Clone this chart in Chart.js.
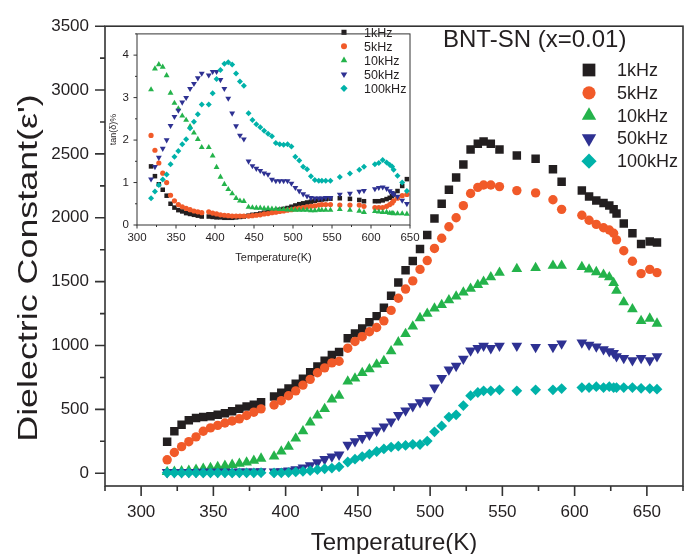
<!DOCTYPE html>
<html>
<head>
<meta charset="utf-8">
<script src="https://cdn.jsdelivr.net/npm/chart.js@4/dist/chart.umd.min.js"></script>
<style>
    html, body { margin: 0; padding: 0; background: #fff; }
    #wrap { position: relative; width: 694px; height: 554px; }
    #main { position: absolute; left: 0; top: 0; }
    #inset { position: absolute; left: 106px; top: 19px; }
</style>
</head>
<body>
<div id="wrap">
    <canvas id="main" width="694" height="554"></canvas>
    <canvas id="inset" width="320" height="250"></canvas>
</div>
<script>
// temperatures (K), shared by main plot and inset
const temps = [318, 323, 328, 333, 338, 343, 348, 353, 358, 363, 368, 373, 378, 383,
    392, 397, 402, 407, 412, 417, 422, 427, 432, 437, 443, 448, 453, 458, 463, 468,
    473, 478, 483, 488, 493, 498, 503, 508, 513, 518, 523, 528, 533, 537, 542, 548,
    560, 573, 585, 591,
    605, 610, 615, 620, 624, 627, 629, 634, 640, 646, 652, 657];

// dielectric constant
const eps1k = [247, 329, 380, 414, 432, 440, 447, 457, 470, 486, 504, 522, 537, 555,
    600, 630, 663, 700, 740, 790, 835, 880, 925, 950, 1056, 1095, 1133, 1183, 1230, 1295,
    1390, 1493, 1590, 1662, 1755, 1866, 1995, 2110, 2220, 2315, 2418, 2534, 2580, 2598, 2580, 2534,
    2488, 2462, 2380, 2282,
    2213, 2167, 2136, 2115, 2097, 2066, 2033, 1956, 1879, 1794, 1814, 1807];
const eps5k = [105, 162, 208, 247, 285, 329, 355, 375, 393, 409, 426, 452, 478, 504,
    534, 568, 607, 645, 690, 735, 787, 825, 864, 877, 979, 1031, 1069, 1108, 1141, 1193,
    1275, 1370, 1442, 1506, 1596, 1665, 1760, 1840, 1930, 2000, 2095, 2190, 2238, 2257, 2257, 2244,
    2213, 2195, 2141, 2066,
    2020, 1981, 1948, 1922, 1904, 1879, 1827, 1742, 1660, 1563, 1596, 1571];
const eps10k = [10, 12, 15, 20, 28, 35, 42, 50, 58, 66, 75, 85, 98, 115,
    131, 170, 208, 272, 330, 398, 452, 504, 578, 607, 718, 742, 785, 815, 852, 880,
    955, 1025, 1090, 1150, 1215, 1250, 1290, 1318, 1355, 1385, 1415, 1445, 1475, 1500, 1535, 1571,
    1600, 1607, 1625, 1625,
    1615, 1596, 1575, 1555, 1535, 1490, 1430, 1339, 1285, 1193, 1211, 1172];
const eps50k = [8, 8, 8, 9, 9, 10, 10, 10, 11, 11, 12, 12, 13, 14,
    12, 15, 20, 30, 45, 62, 85, 110, 130, 145, 222, 250, 275, 300, 333, 365,
    405, 455, 491, 524, 555, 570, 671, 745, 812, 840, 895, 960, 980, 997, 979, 997,
    997, 987, 987, 1015,
    1023, 1005, 992, 970, 955, 940, 915, 902, 884, 902, 884, 915];
const eps100k = [3, 3, 2, 3, 3, 2, 3, 3, 3, 2, 3, 3, 3, 4,
    2, 3, 5, 10, 15, 20, 28, 35, 40, 50, 88, 110, 130, 150, 170, 190,
    205, 212, 218, 226, 225, 252, 324, 370, 440, 457, 530, 607, 632, 645, 645, 653,
    645, 653, 653, 663,
    671, 671, 678, 671, 678, 671, 671, 671, 671, 665, 663, 658];

// loss tangent (%) for the inset
const tan1k = [1.38, 1.15, 0.96, 0.83, 0.69, 0.50, 0.41, 0.35, 0.32, 0.28, 0.26, 0.24, 0.22, 0.20,
    0.20, 0.19, 0.18, 0.18, 0.17, 0.17, 0.17, 0.18, 0.19, 0.20, 0.22, 0.24, 0.25, 0.27, 0.29, 0.30,
    0.32, 0.34, 0.36, 0.38, 0.40, 0.43, 0.46, 0.49, 0.51, 0.53, 0.55, 0.57, 0.59, 0.60, 0.61, 0.62,
    0.63, 0.615, 0.59, 0.56,
    0.56, 0.56, 0.58, 0.61, 0.64, 0.68, 0.72, 0.80, 0.92, 1.08, null, null];
const tan5k = [2.11, 1.76, 1.46, 1.22, 1.00, 0.70, 0.57, 0.48, 0.43, 0.39, 0.36, 0.33, 0.31, 0.29,
    0.31, 0.28, 0.26, 0.24, 0.23, 0.22, 0.21, 0.21, 0.21, 0.21, 0.21, 0.22, 0.23, 0.24, 0.26, 0.27,
    0.29, 0.30, 0.32, 0.33, 0.35, 0.36, 0.38, 0.40, 0.41, 0.43, 0.44, 0.45, 0.47, 0.48, 0.48, 0.48,
    0.47, 0.47, 0.47, 0.44,
    0.41, 0.41, 0.41, 0.44, 0.48, 0.52, 0.57, 0.63, 0.69, 0.72, null, null];
const tan10k = [3.19, 3.68, 3.78, 3.72, 3.52, 3.11, 2.87, 2.74, 2.57, 2.47, 2.32, 2.17, 2.02, 1.83,
    1.83, 1.63, 1.36, 1.13, 0.96, 0.84, 0.74, 0.63, 0.57, 0.56, 0.42, 0.41, 0.40, 0.40, 0.39, 0.39,
    0.38, 0.38, 0.37, 0.37, 0.36, 0.36, 0.35, 0.35, 0.35, 0.35, 0.34, 0.34, 0.35, 0.35, 0.35, 0.35,
    0.37, 0.35, 0.33, 0.30,
    0.32, 0.31, 0.30, 0.30, 0.28, 0.28, 0.27, 0.27, 0.27, 0.26, null, null];
const tan50k = [1.08, 1.37, 1.59, 1.80, 2.00, 2.34, 2.55, 2.70, 2.89, 3.00, 3.21, 3.33, 3.46, 3.57,
    3.53, 3.61, 3.61, 3.42, 3.21, 2.98, 2.63, 2.33, 2.11, 2.02, 1.50, 1.39, 1.33, 1.28, 1.22, 1.19,
    1.07, 1.04, 1.04, 1.04, 1.04, 0.98, 0.88, 0.80, 0.73, 0.68, 0.64, 0.63, 0.63, 0.63, 0.64, 0.64,
    0.72, 0.74, 0.79, 0.81,
    0.85, 0.88, 0.89, 0.86, 0.80, 0.76, 0.72, 0.67, 0.58, 0.50, null, null];
const tan100k = [0.63, 0.79, 0.94, 1.07, 1.19, 1.43, 1.61, 1.74, 1.90, 2.02, 2.28, 2.43, 2.61, 2.84,
    2.84, 3.10, 3.44, 3.65, 3.80, 3.83, 3.78, 3.57, 3.38, 3.28, 2.63, 2.47, 2.37, 2.30, 2.22, 2.15,
    2.09, 1.93, 1.90, 1.89, 1.90, 1.85, 1.61, 1.52, 1.37, 1.31, 1.15, 1.06, 1.04, 1.04, 1.04, 1.04,
    1.13, 1.21, 1.30, 1.37,
    1.43, 1.46, 1.53, 1.47, 1.42, 1.38, 1.30, 1.16, 1.00, 0.80, null, null];

const seriesNames = ['1kHz', '5kHz', '10kHz', '50kHz', '100kHz'];
const seriesColors = ['#231f20', '#f15a29', '#24b34b', '#2e3192', '#00b2a9'];
const seriesStyles = ['rect', 'circle', 'triangle', 'triangle', 'rectRot'];
const seriesRotation = [0, 0, 0, 180, 0];

// axis ticks
const xMajor = [300, 350, 400, 450, 500, 550, 600, 650];
const xMinorMain = [275, 325, 375, 425, 475, 525, 575, 625, 675];
const yMajorMain = [0, 500, 1000, 1500, 2000, 2500, 3000, 3500];
const yMinorMain = [250, 750, 1250, 1750, 2250, 2750, 3250];
const xMinorInset = [325, 375, 425, 475, 525, 575, 625];
const yMajorInset = [0, 1, 2, 3, 4];
const yMinorInset = [0.5, 1.5, 2.5, 3.5, 4.5];

const FONT = "'Liberation Sans', Arial, Helvetica, sans-serif";
const INK = '#231f20';
const AXIS = '#333333';

const toPoints = vals => temps.map((t, i) => ({ x: t, y: vals[i] })).filter(p => p.y !== null);

function buildDatasets(seriesList, radii) {
    return seriesList.map((vals, i) => ({
        label: seriesNames[i],
        data: toPoints(vals),
        pointStyle: seriesStyles[i],
        pointRotation: seriesRotation[i],
        pointRadius: radii[i],
        pointBackgroundColor: seriesColors[i],
        pointBorderWidth: 0,
        showLine: false,
        order: 4 - i
    }));
}

// box around the plot area plus outward major/minor ticks
const framePlugin = {
    id: 'frame',
    afterDraw(chart, args, opts) {
        const { ctx, chartArea: { left, top, right, bottom }, scales: { x, y } } = chart;
        ctx.save();
        ctx.strokeStyle = AXIS;
        ctx.lineWidth = opts.width;
        ctx.strokeRect(left, top, right - left, bottom - top);
        ctx.beginPath();
        for (const v of opts.xMajor) {
            const px = x.getPixelForValue(v);
            ctx.moveTo(px, bottom); ctx.lineTo(px, bottom + opts.majorLen);
        }
        for (const v of opts.xMinor) {
            const px = x.getPixelForValue(v);
            ctx.moveTo(px, bottom); ctx.lineTo(px, bottom + opts.minorLen);
        }
        for (const v of opts.yMajor) {
            const py = y.getPixelForValue(v);
            ctx.moveTo(left, py); ctx.lineTo(left - opts.majorLen, py);
        }
        for (const v of opts.yMinor) {
            const py = y.getPixelForValue(v);
            ctx.moveTo(left, py); ctx.lineTo(left - opts.minorLen, py);
        }
        ctx.stroke();
        // tall y-axis title of the main plot
        if (opts.yTitle) {
            ctx.translate(opts.yTitleX, opts.yTitleY);
            ctx.rotate(-Math.PI / 2);
            ctx.scale(opts.yTitleStretch, 1);
            ctx.fillStyle = INK;
            ctx.font = opts.yTitleFont;
            ctx.textAlign = 'center';
            ctx.textBaseline = 'middle';
            ctx.fillText(opts.yTitle, 0, 0);
        }
        ctx.restore();
    }
};

// legend drawn at a fixed spot inside the plot, plus optional heading
const markerLegendPlugin = {
    id: 'markerLegend',
    afterDatasetsDraw(chart, args, opts) {
        const { ctx } = chart;
        ctx.save();
        if (opts.heading) {
            ctx.fillStyle = INK;
            ctx.font = opts.headingFont;
            ctx.textAlign = 'left';
            ctx.textBaseline = 'middle';
            ctx.fillText(opts.heading, opts.headingX, opts.headingY);
        }
        chart.data.datasets.forEach((ds, i) => {
            const yy = opts.y0 + i * opts.dy;
            ctx.fillStyle = seriesColors[i];
            Chart.helpers.drawPoint(ctx, {
                pointStyle: seriesStyles[i],
                rotation: seriesRotation[i],
                radius: opts.radii[i],
                borderWidth: 0
            }, opts.markerX, yy);
            ctx.fillStyle = INK;
            ctx.font = opts.font;
            ctx.textAlign = 'left';
            ctx.textBaseline = 'middle';
            ctx.fillText(seriesNames[i], opts.textX, yy + 1);
        });
        ctx.restore();
    }
};

const plainLabel = v => String(v);

new Chart(document.getElementById('main'), {
    type: 'scatter',
    data: {
        datasets: buildDatasets([eps1k, eps5k, eps10k, eps50k, eps100k], [6, 4.7, 6.2, 6.2, 5.4])
    },
    options: {
        responsive: false,
        animation: false,
        layout: { padding: { top: 18, right: 11, left: 0, bottom: 0 } },
        plugins: {
            legend: { display: false },
            tooltip: { enabled: false },
            frame: {
                width: 1.6, majorLen: 10, minorLen: 5,
                xMajor, xMinor: xMinorMain, yMajor: yMajorMain, yMinor: yMinorMain,
                yTitle: "Dielectric Constant(ε')", yTitleFont: `28px ${FONT}`,
                yTitleX: 29, yTitleY: 268, yTitleStretch: 1.28
            },
            markerLegend: {
                heading: 'BNT-SN (x=0.01)', headingFont: `24px ${FONT}`, headingX: 443, headingY: 40,
                markerX: 589, textX: 617, y0: 70, dy: 22.8,
                font: `18px ${FONT}`, radii: [9, 6.6, 8.3, 8.3, 7.6]
            }
        },
        scales: {
            x: {
                type: 'linear', min: 275, max: 675,
                afterBuildTicks: s => { s.ticks = xMajor.map(v => ({ value: v })); },
                afterFit: s => { s.height = 68; },
                grid: { display: false, drawTicks: false },
                border: { display: false },
                ticks: { color: INK, font: { family: FONT, size: 17 }, padding: 16, maxRotation: 0, callback: plainLabel },
                title: { display: true, text: 'Temperature(K)', color: INK, font: { family: FONT, size: 24, lineHeight: 1 }, padding: { top: 0, bottom: -1 } }
            },
            y: {
                type: 'linear', min: -100, max: 3500,
                afterBuildTicks: s => { s.ticks = yMajorMain.map(v => ({ value: v })); },
                afterFit: s => { s.width = 105; },
                grid: { display: false, drawTicks: false },
                border: { display: false },
                ticks: { color: INK, font: { family: FONT, size: 17 }, padding: 16, callback: plainLabel },
                title: { display: false }
            }
        }
    },
    plugins: [framePlugin, markerLegendPlugin]
});

new Chart(document.getElementById('inset'), {
    type: 'scatter',
    data: {
        datasets: buildDatasets([tan1k, tan5k, tan10k, tan50k, tan100k], [3.2, 2.6, 3.4, 3.4, 3.0])
    },
    options: {
        responsive: false,
        animation: false,
        layout: { padding: { top: 4, right: 16, left: 0, bottom: 0 } },
        plugins: {
            legend: { display: false },
            tooltip: { enabled: false },
            frame: { width: 1, majorLen: 3.5, minorLen: 2, xMajor, xMinor: xMinorInset, yMajor: yMajorInset, yMinor: yMinorInset },
            markerLegend: {
                markerX: 238, textX: 258, y0: 13.3, dy: 14,
                font: `12.5px ${FONT}`, radii: [3.6, 3.0, 3.8, 3.8, 3.6]
            }
        },
        scales: {
            x: {
                type: 'linear', min: 300, max: 650,
                afterBuildTicks: s => { s.ticks = xMajor.map(v => ({ value: v })); },
                afterFit: s => { s.height = 44; },
                grid: { display: false, drawTicks: false },
                border: { display: false },
                ticks: { color: INK, font: { family: FONT, size: 11.5 }, padding: 6, maxRotation: 0, callback: plainLabel },
                title: { display: true, text: 'Temperature(K)', color: INK, font: { family: FONT, size: 11, lineHeight: 1 }, padding: { top: 0, bottom: 6 } }
            },
            y: {
                type: 'linear', min: 0, max: 4.5,
                afterBuildTicks: s => { s.ticks = yMajorInset.map(v => ({ value: v })); },
                afterFit: s => { s.width = 31; },
                grid: { display: false, drawTicks: false },
                border: { display: false },
                ticks: { color: INK, font: { family: FONT, size: 11.5 }, padding: 8, callback: plainLabel },
                title: { display: true, text: 'tan(δ)%', color: INK, font: { family: FONT, size: 9, lineHeight: 1 }, padding: { top: 3, bottom: 0 } }
            }
        }
    },
    plugins: [framePlugin, markerLegendPlugin]
});
</script>
</body>
</html>
